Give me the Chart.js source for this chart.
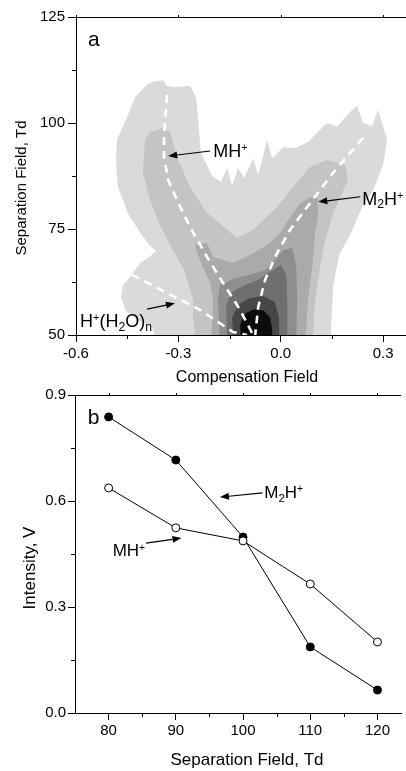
<!DOCTYPE html>
<html>
<head>
<meta charset="utf-8">
<script src="https://cdn.jsdelivr.net/npm/chart.js@4.4.1/dist/chart.umd.min.js"></script>
<style>
  html, body { margin: 0; padding: 0; background: #fff; }
  #wrap { position: relative; width: 406px; height: 771px; overflow: hidden; }
  canvas { position: absolute; left: 0; }
  #contour { top: 0; }
  #intensity { top: 380px; }
</style>
</head>
<body>
<div id="wrap">
  <canvas id="contour" width="406" height="390"></canvas>
  <canvas id="intensity" width="406" height="391"></canvas>
</div>
<script>
// ---- panel a: contour levels [compensation field, separation field], outer (light) to inner (dark)
const level1 = [[-0.362,47.6],[-0.377,51.9],[-0.418,53.5],[-0.456,55.9],[-0.468,59.0],[-0.462,61.8],[-0.442,63.7],[-0.412,67.0],[-0.383,68.6],[-0.365,69.8],[-0.383,71.0],[-0.412,74.1],[-0.448,78.8],[-0.477,84.9],[-0.483,91.3],[-0.480,96.0],[-0.450,101.4],[-0.427,106.1],[-0.392,109.0],[-0.374,109.7],[-0.345,110.1],[-0.333,108.7],[-0.310,108.5],[-0.266,108.7],[-0.248,106.1],[-0.242,100.7],[-0.234,92.9],[-0.201,87.5],[-0.175,86.1],[-0.157,89.4],[-0.143,85.1],[-0.125,89.4],[-0.107,87.0],[-0.081,91.7],[-0.066,87.7],[-0.040,96.0],[-0.025,91.7],[0.007,94.3],[0.042,94.1],[0.080,95.5],[0.115,98.4],[0.136,100.0],[0.165,99.1],[0.203,102.6],[0.224,104.0],[0.241,100.0],[0.268,99.3],[0.285,103.1],[0.312,96.0],[0.300,90.1],[0.271,84.2],[0.239,80.2],[0.203,73.6],[0.171,68.9],[0.154,61.8],[0.145,47.6]];
const level2 = [[-0.250,47.6],[-0.255,53.5],[-0.257,58.3],[-0.283,65.3],[-0.324,71.2],[-0.354,75.9],[-0.383,81.8],[-0.404,88.2],[-0.398,96.0],[-0.383,97.9],[-0.345,98.8],[-0.324,97.9],[-0.304,92.0],[-0.266,84.9],[-0.216,78.8],[-0.157,74.8],[-0.128,72.9],[-0.081,74.8],[-0.011,80.2],[0.036,84.9],[0.086,89.6],[0.136,91.3],[0.189,90.1],[0.197,86.6],[0.154,78.8],[0.130,72.4],[0.115,66.0],[0.101,58.3],[0.092,47.6]];
const level3 = [[-0.204,47.6],[-0.198,58.3],[-0.207,62.3],[-0.228,66.0],[-0.245,69.3],[-0.251,71.2],[-0.216,71.7],[-0.198,68.4],[-0.140,67.0],[-0.081,69.3],[-0.031,71.7],[-0.002,74.1],[0.027,77.8],[0.057,81.1],[0.086,82.5],[0.107,82.3],[0.110,78.8],[0.101,74.1],[0.092,66.0],[0.080,58.3],[0.071,47.6]];
const level4 = [[-0.178,47.6],[-0.184,58.3],[-0.178,61.8],[-0.134,63.4],[-0.090,64.2],[-0.046,65.3],[-0.017,67.7],[0.007,70.0],[0.033,70.5],[0.045,66.5],[0.048,58.3],[0.045,47.6]];
const level5 = [[-0.157,47.6],[-0.160,57.1],[-0.143,60.1],[-0.105,61.8],[-0.066,63.0],[-0.031,64.9],[0.001,66.5],[0.016,64.2],[0.019,58.3],[0.019,47.6]];
const level6 = [[-0.137,47.6],[-0.143,54.0],[-0.125,57.1],[-0.090,58.7],[-0.052,59.2],[-0.017,57.8],[-0.005,54.0],[-0.005,47.6]];
const level7 = [[-0.116,47.6],[-0.119,52.4],[-0.105,55.0],[-0.078,56.1],[-0.049,55.7],[-0.031,54.0],[-0.025,51.2],[-0.025,47.6]];

// dashed ridge lines
const mhPath = [[-0.333,106.6],[-0.342,97.6],[-0.342,92.0],[-0.330,86.6],[-0.304,81.8],[-0.266,75.5],[-0.216,68.4],[-0.169,62.3],[-0.119,55.9],[-0.081,50]];
const m2hPath = [[0.241,96.5],[0.153,88.2],[0.086,81.1],[0.027,74.8],[-0.011,69.3],[-0.046,63.0],[-0.066,56.6],[-0.075,50]];
const waterPath = [[-0.436,64.2],[-0.333,59.9],[-0.236,55.9],[-0.140,50.7],[-0.099,50]];

const topXTicks = [-0.6, -0.3, 0, 0.3];
const topYTicks = [50, 75, 100, 125];
const topXMinor = [-0.45, -0.15, 0.15];
const topYMinor = [62.5, 87.5, 112.5];

// ---- panel b: intensity vs separation field
const separationField = [80, 90, 100, 110, 120];
const intensityM2H = [0.838, 0.716, 0.498, 0.187, 0.065];
const intensityMH = [0.637, 0.524, 0.487, 0.365, 0.201];

const botXTicks = [80, 90, 100, 110, 120];
const botYTicks = [0, 0.3, 0.6, 0.9];
const botXMinor = [85, 95, 105, 115];
const botYMinor = [0.15, 0.45, 0.75];

const FONT = "'Liberation Sans', Arial, sans-serif";
const levelFill = ['#dadada', '#c4c4c4', '#aaaaaa', '#8e8e8e', '#6f6f6f', '#474747', '#0c0c0c'];

function drawRich(ctx, x, y, parts, size) {
  let cx = x;
  const base = y + size * 0.36;
  parts.forEach(([t, kind]) => {
    let fs = size, by = base;
    if (kind === 'sup') { fs = size * 0.6; by = base - size * 0.33; }
    if (kind === 'sub') { fs = size * 0.68; by = base + size * 0.22; }
    ctx.font = fs + 'px ' + FONT;
    ctx.textBaseline = 'alphabetic';
    ctx.textAlign = 'left';
    ctx.fillText(t, cx, by);
    cx += ctx.measureText(t).width;
  });
}

function drawArrow(ctx, x1, y1, x2, y2) {
  const ang = Math.atan2(y2 - y1, x2 - x1);
  const L = 9, W = 3.5;
  const bx = x2 - L * Math.cos(ang), by = y2 - L * Math.sin(ang);
  ctx.lineWidth = 1.2;
  ctx.beginPath(); ctx.moveTo(x1, y1); ctx.lineTo(bx, by); ctx.stroke();
  ctx.beginPath();
  ctx.moveTo(x2, y2);
  ctx.lineTo(bx - W * Math.sin(ang), by + W * Math.cos(ang));
  ctx.lineTo(bx + W * Math.sin(ang), by - W * Math.cos(ang));
  ctx.closePath(); ctx.fill();
}

// frame top line, minor ticks, axis titles, labels and arrows
const decor = {
  id: 'decor',
  afterDraw(chart, args, opts) {
    const { ctx, chartArea: a, scales: { x, y } } = chart;
    ctx.save();
    ctx.strokeStyle = '#000';
    ctx.fillStyle = '#000';
    ctx.lineWidth = 1;
    ctx.beginPath();
    ctx.moveTo(a.left, a.top + 0.5); ctx.lineTo(a.right, a.top + 0.5);
    opts.majorX.forEach(v => {
      const px = Math.round(x.getPixelForValue(v)) + 0.5;
      ctx.moveTo(px, a.top); ctx.lineTo(px, a.top - 2);
    });
    opts.minorX.forEach(v => {
      const px = Math.round(x.getPixelForValue(v)) + 0.5;
      ctx.moveTo(px, a.bottom); ctx.lineTo(px, a.bottom + 4);
    });
    opts.minorY.forEach(v => {
      const py = Math.round(y.getPixelForValue(v)) + 0.5;
      ctx.moveTo(a.left, py); ctx.lineTo(a.left - 4, py);
    });
    ctx.stroke();

    // axis titles
    ctx.textAlign = 'center';
    ctx.textBaseline = 'middle';
    ctx.font = opts.xTitle.size + 'px ' + FONT;
    ctx.fillText(opts.xTitle.text, opts.xTitle.cx, opts.xTitle.cy);
    ctx.save();
    ctx.translate(opts.yTitle.cx, opts.yTitle.cy);
    ctx.rotate(-Math.PI / 2);
    ctx.font = opts.yTitle.size + 'px ' + FONT;
    ctx.fillText(opts.yTitle.text, 0, 0);
    ctx.restore();

    opts.notes.forEach(n => drawRich(ctx, x.getPixelForValue(n.x), y.getPixelForValue(n.y), n.parts, n.size));
    opts.arrows.forEach(([x1, y1, x2, y2]) => drawArrow(ctx,
      x.getPixelForValue(x1), y.getPixelForValue(y1), x.getPixelForValue(x2), y.getPixelForValue(y2)));
    ctx.restore();
  }
};

function axisOpts(min, max, ticks, tickLen, pad, fmt) {
  return {
    type: 'linear', min: min, max: max,
    afterBuildTicks: s => { s.ticks = ticks.map(v => ({ value: v })); },
    grid: { drawOnChartArea: false, tickLength: tickLen, tickColor: '#000', tickWidth: 1 },
    border: { color: '#000', width: 1 },
    ticks: { color: '#000', font: { family: FONT, size: 15 }, padding: pad, autoSkip: false, maxRotation: 0, callback: fmt }
  };
}

const toXY = pts => pts.map(([cx, sf]) => ({ x: cx, y: sf }));
const dashed = pts => ({ data: toXY(pts), borderColor: '#fff', borderWidth: 2.6, borderDash: [8, 6], pointRadius: 0, fill: false, order: 0 });
const levels = [level1, level2, level3, level4, level5, level6, level7];

const topX = axisOpts(-0.6, 0.367, topXTicks, 7, 3, v => v.toFixed(1));
topX.afterFit = s => { s.height = 55; };
const topY = axisOpts(50, 125, topYTicks, 8, 3, v => String(v));
topY.afterFit = s => { s.width = 76; };

new Chart(document.getElementById('contour'), {
  type: 'line',
  data: {
    datasets: [
      dashed(mhPath), dashed(m2hPath), dashed(waterPath),
      ...levels.map((pts, i) => ({
        data: toXY(pts), fill: 'shape', backgroundColor: levelFill[i],
        borderWidth: 0, borderColor: 'transparent', pointRadius: 0, order: 10 - i
      }))
    ]
  },
  options: {
    responsive: false, animation: false, events: [],
    layout: { padding: { top: 17, left: 0, right: 0, bottom: 0 } },
    plugins: {
      legend: { display: false }, tooltip: { enabled: false },
      decor: {
        majorX: topXTicks, minorX: topXMinor, minorY: topYMinor,
        xTitle: { text: 'Compensation Field', size: 16, cx: 247, cy: 378 },
        yTitle: { text: 'Separation Field, Td', size: 15, cx: 22, cy: 188 },
        notes: [
          { x: -0.565, y: 120, parts: [['a']], size: 21 },
          { x: -0.198, y: 93.6, parts: [['MH'], ['+', 'sup']], size: 18 },
          { x: 0.239, y: 82.3, parts: [['M'], ['2', 'sub'], ['H'], ['+', 'sup']], size: 18 },
          { x: -0.588, y: 53.5, parts: [['H'], ['+', 'sup'], ['(H'], ['2', 'sub'], ['O)'], ['n', 'sub']], size: 18 }
        ],
        arrows: [
          [-0.207, 93.4, -0.330, 92.2],
          [0.233, 82.6, 0.110, 81.4],
          [-0.392, 56.1, -0.310, 57.5]
        ]
      }
    },
    scales: { x: topX, y: topY }
  },
  plugins: [decor]
});

const botX = axisOpts(75, 123.5, botXTicks, 7, 2, v => String(v));
botX.afterFit = s => { s.height = 58; };
const botY = axisOpts(0, 0.9, botYTicks, 7, 2, v => v.toFixed(1));
botY.afterFit = s => { s.width = 75; };

new Chart(document.getElementById('intensity'), {
  type: 'line',
  data: {
    datasets: [
      {
        label: 'MH+', data: separationField.map((s, i) => ({ x: s, y: intensityMH[i] })),
        borderColor: '#000', borderWidth: 1, pointRadius: 4, pointBackgroundColor: '#fff',
        pointBorderColor: '#000', pointBorderWidth: 1, fill: false, order: 0
      },
      {
        label: 'M2H+', data: separationField.map((s, i) => ({ x: s, y: intensityM2H[i] })),
        borderColor: '#000', borderWidth: 1, pointRadius: 4, pointBackgroundColor: '#000',
        pointBorderColor: '#000', pointBorderWidth: 1, fill: false, order: 1
      }
    ]
  },
  options: {
    responsive: false, animation: false, events: [],
    layout: { padding: { top: 15, left: 0, right: 0, bottom: 0 } },
    plugins: {
      legend: { display: false }, tooltip: { enabled: false },
      decor: {
        majorX: botXTicks, minorX: botXMinor, minorY: botYMinor,
        xTitle: { text: 'Separation Field, Td', size: 17, cx: 247, cy: 380 },
        yTitle: { text: 'Intensity, V', size: 17, cx: 30, cy: 188 },
        notes: [
          { x: 76.9, y: 0.838, parts: [['b']], size: 21 },
          { x: 103.15, y: 0.626, parts: [['M'], ['2', 'sub'], ['H'], ['+', 'sup']], size: 17 },
          { x: 80.6, y: 0.461, parts: [['MH'], ['+', 'sup']], size: 17 }
        ],
        arrows: [
          [102.9, 0.623, 96.56, 0.611],
          [85.57, 0.481, 90.84, 0.495]
        ]
      }
    },
    scales: { x: botX, y: botY }
  },
  plugins: [decor]
});
</script>
</body>
</html>
